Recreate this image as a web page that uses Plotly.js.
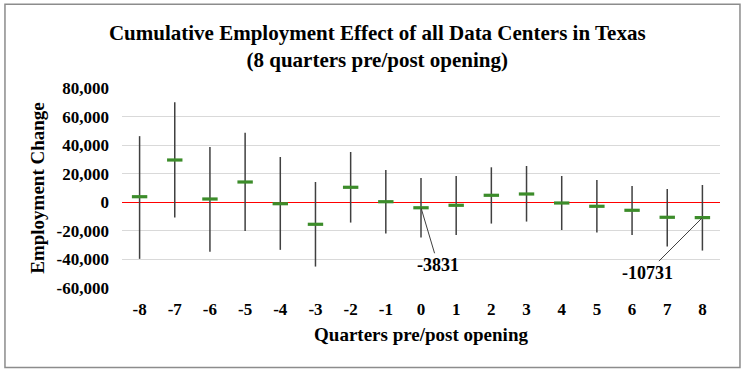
<!DOCTYPE html>
<html>
<head>
<meta charset="utf-8">
<script src="https://cdn.plot.ly/plotly-3.0.1.min.js"></script>
<style>html,body{margin:0;padding:0;background:#fff;}#chart{width:750px;height:373px;}</style>
</head>
<body>
<div id="chart"></div>
<script>
const quarters = [-8,-7,-6,-5,-4,-3,-2,-1,0,1,2,3,4,5,6,7,8];
const effect = [3900,29600,2300,14200,-1000,-15400,10500,400,-3831,-2100,4900,5800,-500,-2800,-5600,-10500,-10731];
const upper = [46300,70100,38700,48700,31700,14200,35200,22600,17000,18400,24500,25400,18400,15600,11400,9300,12100];
const lower = [-39600,-10700,-34700,-20100,-33300,-45000,-14200,-21900,-24700,-22900,-14900,-13500,-19400,-21200,-22900,-31000,-33800];
const yTicks = [-60000,-40000,-20000,0,20000,40000,60000,80000];
const yTickText = ['-60,000','-40,000','-20,000','0','20,000','40,000','60,000','80,000'];

const serif = '"Liberation Serif", "Times New Roman", serif';

const trace = {
  x: quarters,
  y: effect,
  type: 'scatter',
  mode: 'markers',
  marker: {symbol: 'line-ew', size: 11, color: '#3C8C2A', line: {width: 3.2, color: '#3C8C2A'}},
  error_y: {
    type: 'data', symmetric: false,
    array: upper.map((u, i) => u - effect[i]),
    arrayminus: lower.map((l, i) => effect[i] - l),
    color: '#404040', thickness: 1.5, width: 0
  },
  hoverinfo: 'x+y'
};

const i0 = quarters.indexOf(0);
const i8 = quarters.indexOf(8);

const layout = {
  width: 750, height: 373,
  margin: {l: 122, r: 30, t: 88, b: 85},
  paper_bgcolor: '#fff', plot_bgcolor: '#fff',
  showlegend: false,
  title: {
    text: '<b>Cumulative Employment Effect of all Data Centers in Texas<br>(8 quarters pre/post opening)</b>',
    font: {family: serif, size: 21, color: '#000'},
    x: 0.503, xanchor: 'center', y: 0.894, yanchor: 'top'
  },
  xaxis: {
    range: [-8.5, 8.5],
    tickmode: 'array', tickvals: quarters, ticktext: quarters.map(String),
    showgrid: false, zeroline: false, showline: false, ticks: '',
    ticklabelstandoff: 9,
    tickfont: {family: serif, size: 17, color: '#000', weight: 'bold'},
    title: {text: '<b>Quarters pre/post opening</b>', font: {family: serif, size: 19, color: '#000'}, standoff: 9}
  },
  yaxis: {
    range: [-60000, 80000],
    tickmode: 'array', tickvals: yTicks, ticktext: yTickText,
    showgrid: true, gridcolor: '#d9d9d9', gridwidth: 1,
    zeroline: true, zerolinecolor: '#ff0000', zerolinewidth: 1.5,
    showline: false, ticks: '',
    ticklabelstandoff: 12,
    tickfont: {family: serif, size: 17, color: '#000', weight: 'bold'},
    title: {text: '<b>Employment Change</b>', font: {family: serif, size: 19, color: '#000'}, standoff: 6}
  },
  annotations: [
    {x: quarters[i0], y: effect[i0], xref: 'x', yref: 'y', text: '<b>' + effect[i0] + '</b>',
     showarrow: true, arrowhead: 0, arrowwidth: 1, arrowcolor: '#404040', ax: 17, ay: 57,
     font: {family: serif, size: 18, color: '#000'}},
    {x: quarters[i8], y: effect[i8], xref: 'x', yref: 'y', text: '<b>' + effect[i8] + '</b>',
     showarrow: true, arrowhead: 0, arrowwidth: 1, arrowcolor: '#404040', ax: -55, ay: 55,
     font: {family: serif, size: 18, color: '#000'}}
  ],
  shapes: [
    {type: 'rect', xref: 'paper', yref: 'paper', x0: -0.1957, x1: 1.0334, y0: -0.398, y1: 1.419,
     line: {color: '#8c8c8c', width: 1.5}, fillcolor: 'rgba(0,0,0,0)', layer: 'below'}
  ]
};

Plotly.newPlot('chart', [trace], layout, {displayModeBar: false, staticPlot: true});
</script>
</body>
</html>
